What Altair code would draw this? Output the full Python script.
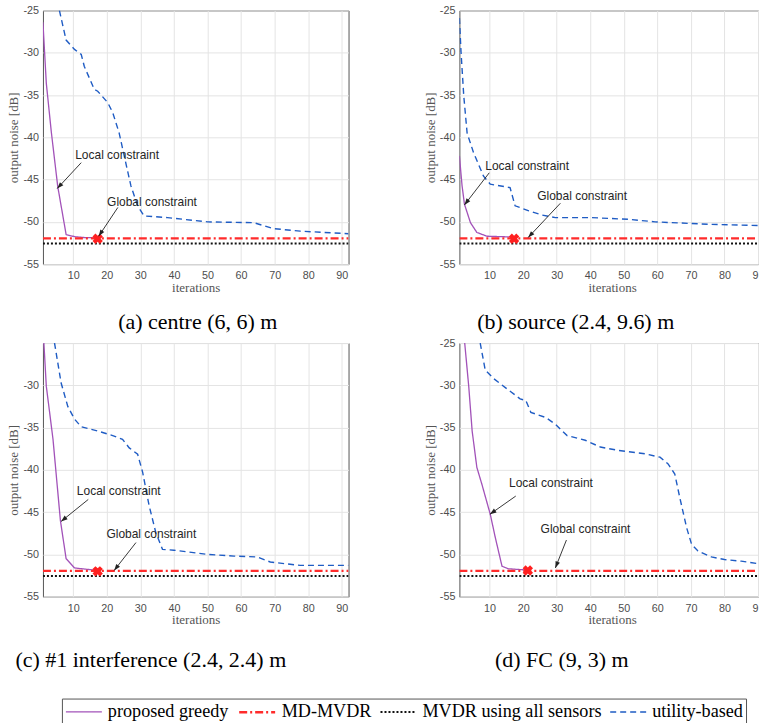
import math
import altair as alt
import pandas as pd

SERIES = ["proposed greedy", "MD-MVDR", "MVDR using all sensors", "utility-based"]
COLORS = ["#a252b9", "#ff2b2b", "#111111", "#1f5cc4"]
DASHES = [[1, 0], [8, 3, 2, 3], [2, 2], [6, 4]]
WIDTHS = [1.3, 2.4, 2.0, 1.4]

MD_LEVEL = -51.95
ALL_LEVEL = -52.55

# ---- (a) centre
a_greedy_x = [1, 2, 3.5, 5.4, 7.9, 10.4, 13, 17.3]
a_greedy_y = [-26.4, -33.6, -39.4, -45.8, -51.5, -51.75, -51.85, -51.9]
a_util_x = [5.9, 7.9, 10.4, 12.4, 13.3, 16.3, 17.3, 20.3, 21.8, 23.7, 25.2, 27.2, 29.2, 31.1, 38.1, 50, 63.8, 69.7, 77.6, 92]
a_util_y = [-25, -28.5, -29.6, -30.2, -31.6, -34.35, -34.55, -35.9, -37.1, -39.5, -42.2, -45.75, -48.1, -49.3, -49.5, -50.0, -50.1, -50.8, -51.1, -51.4]
a_cross = (17.3, -52.0)

# ---- (b) source
b_greedy_x = [1, 1.8, 2.5, 4.3, 6.2, 9.2, 17.6]
b_greedy_y = [-42.2, -45.75, -47.9, -50.1, -51.25, -51.7, -51.8]
b_util_x = [1, 1.5, 2.3, 3.3, 5.2, 8.2, 10.2, 16.1, 17.6, 21.7, 25.7, 29.6, 40.5, 51.4, 59.3, 76, 92]
b_util_y = [-25.9, -30.0, -35.1, -39.5, -41.8, -44.6, -45.55, -45.95, -48.1, -48.7, -49.2, -49.5, -49.5, -49.7, -50.0, -50.3, -50.45]
b_cross = (17.3, -52.0)

# ---- (c) interference
c_greedy_x = [1, 2, 4, 6.2, 7.9, 10.4, 17.3]
c_greedy_y = [-23, -30.1, -36.4, -46.0, -50.5, -51.6, -51.9]
c_util_x = [4.45, 6.4, 8.4, 10.4, 12.4, 17.3, 22.2, 24.7, 26.7, 29.2, 30.7, 32.6, 34.6, 36.6, 40, 50, 57.9, 64.8, 68.7, 77.6, 92]
c_util_y = [-25, -29.7, -32.5, -34.0, -34.9, -35.4, -36.0, -36.4, -37.4, -38.15, -40.3, -44.2, -47.4, -49.4, -49.5, -50.0, -50.2, -50.3, -50.9, -51.3, -51.3]
c_cross = (17.3, -52.0)

# ---- (d) FC
d_greedy_x = [2, 3.8, 4.8, 6.2, 7.7, 10.2, 11.7, 13.7, 15.6, 21.4]
d_greedy_y = [-22.5, -30.2, -35.4, -39.7, -41.7, -45.25, -48.0, -51.4, -51.7, -51.85]
d_util_x = [7.2, 8.7, 11.2, 15.1, 19.1, 20.8, 22.3, 26.7, 29.6, 33.1, 38.5, 43, 48.4, 56.3, 60.8, 63.2, 65.2, 66.7, 68.7, 70.2, 72.1, 76.1, 80, 85, 92]
d_util_y = [-25, -28.2, -29.2, -30.4, -31.6, -31.8, -33.2, -33.8, -34.6, -35.95, -36.5, -37.3, -37.7, -38.1, -38.5, -39.3, -40.5, -43.3, -46.8, -48.8, -49.6, -50.3, -50.6, -50.8, -51.2]
d_cross = (21.4, -51.9)

# annotations: (label, text x, text y, arrow start x, y, arrow tip x, y)
a_ann = [("Local constraint", 10.6, -42.1, 12.4, -43.0, 5.25, -46.06),
         ("Global constraint", 20.1, -47.6, 23.3, -48.3, 17.6, -51.7)]
b_ann = [("Local constraint", 8.7, -43.4, 9.9, -44.2, 2.5, -48.0),
         ("Global constraint", 24.2, -46.9, 31.1, -47.8, 21.5, -51.85)]
c_ann = [("Local constraint", 11.1, -42.5, 14.5, -43.5, 6.4, -46.1),
         ("Global constraint", 19.9, -47.6, 28.7, -48.6, 22.2, -51.9)]
d_ann = [("Local constraint", 15.8, -41.6, 17.8, -43.1, 10.1, -45.25),
         ("Global constraint", 25.2, -46.95, 32.9, -48.3, 29.6, -51.6)]

X_TICKS = [10, 20, 30, 40, 50, 60, 70, 80, 90]
Y_TICKS = [-55, -50, -45, -40, -35, -30, -25]

LEG = alt.Legend(orient="none", legendX=19, legendY=689, direction="horizontal", title=None,
                 symbolType="M-1,0L3,0", symbolSize=324, labelFont="Liberation Serif",
                 labelFontSize=18.2, labelColor="black", strokeColor="#555555",
                 fillColor="white", padding=3, columnPadding=5, labelOffset=23,
                 labelLimit=0)


def panel(gx, gy, ux, uy, cross, ann, xmax, width, height, caption, cap_dx, cap_dy,
          hide_top=False, cut90=False):
    rows = [dict(series=SERIES[0], x=x, y=y) for x, y in zip(gx, gy)]
    rows += [dict(series=SERIES[1], x=1, y=MD_LEVEL), dict(series=SERIES[1], x=92, y=MD_LEVEL)]
    rows += [dict(series=SERIES[2], x=1, y=ALL_LEVEL), dict(series=SERIES[2], x=92, y=ALL_LEVEL)]
    rows += [dict(series=SERIES[3], x=x, y=y) for x, y in zip(ux, uy)]
    df = pd.DataFrame(rows)

    sx = width / (xmax - 1)
    sy = height / 30.0
    arows = []
    for lab, tx, ty, x1, y1, x2, y2 in ann:
        dxp = (x2 - x1) * sx
        dyp = -(y2 - y1) * sy
        ang = math.degrees(math.atan2(dxp, -dyp)) % 360
        arows.append(dict(label=lab, tx=tx, ty=ty, x1=x1, y1=y1, x2=x2, y2=y2, ang=ang))
    adf = pd.DataFrame(arows)
    cdf = pd.DataFrame([dict(x=cross[0], y=cross[1])])

    xs = alt.Scale(domain=[1, xmax], nice=False, zero=False)
    ys = alt.Scale(domain=[-55, -25], nice=False, zero=False)

    xlab = "datum.value == 90 ? '9' : '' + datum.value" if cut90 else "'' + datum.value"
    ylab = "datum.value == -25 ? '' : '' + datum.value" if hide_top else "'' + datum.value"
    xaxis_kw = dict(values=X_TICKS, title="iterations", labelExpr=xlab, labelOverlap=False,
                    labelFlush=False, labelBound=False, labelSeparation=0)
    if cut90:
        xaxis_kw["labelAlign"] = {"condition": {"test": "datum.value == 90", "value": "right"},
                                  "value": "center"}
        xaxis_kw["titleX"] = width * (91.0 / (xmax - 1)) / 2
    xaxis = alt.Axis(**xaxis_kw)
    yaxis = alt.Axis(values=Y_TICKS, title="output noise [dB]", labelExpr=ylab, labelOverlap=False)

    lines = alt.Chart(df).mark_line(clip=True).encode(
        x=alt.X("x:Q", scale=xs, axis=xaxis),
        y=alt.Y("y:Q", scale=ys, axis=yaxis),
        color=alt.Color("series:N", scale=alt.Scale(domain=SERIES, range=COLORS), legend=LEG),
        strokeDash=alt.StrokeDash("series:N", scale=alt.Scale(domain=SERIES, range=DASHES), legend=LEG),
        strokeWidth=alt.StrokeWidth("series:N", scale=alt.Scale(type="ordinal", domain=SERIES, range=WIDTHS),
                                    legend=LEG),
        order=alt.Order("x:Q"),
    )
    mark_x = alt.Chart(cdf).mark_point(shape="cross", angle=45, filled=True, color="#ff2020",
                                       size=110, opacity=1, strokeWidth=0).encode(
        x=alt.X("x:Q", scale=xs, axis=xaxis), y=alt.Y("y:Q", scale=ys, axis=yaxis))
    arrows = alt.Chart(adf).mark_rule(color="#222222", strokeWidth=0.9).encode(
        x=alt.X("x1:Q", scale=xs, axis=xaxis), y=alt.Y("y1:Q", scale=ys, axis=yaxis),
        x2="x2:Q", y2="y2:Q")
    heads = alt.Chart(adf).mark_point(shape="M0,0L-0.36,1L0.36,1Z", filled=True, color="#222222",
                                      size=170, opacity=1, strokeWidth=0).encode(
        x=alt.X("x2:Q", scale=xs, axis=xaxis), y=alt.Y("y2:Q", scale=ys, axis=yaxis),
        angle=alt.Angle("ang:Q", scale=None))
    texts = alt.Chart(adf).mark_text(align="left", baseline="middle", font="Liberation Sans",
                                     fontSize=12, color="#262626").encode(
        x=alt.X("tx:Q", scale=xs, axis=xaxis), y=alt.Y("ty:Q", scale=ys, axis=yaxis), text="label:N")

    return alt.layer(lines, mark_x, arrows, heads, texts).properties(
        width=width, height=height,
        title=alt.TitleParams(caption, orient="bottom", anchor="middle", font="Liberation Serif",
                              fontSize=22, fontWeight="normal", color="black",
                              dx=cap_dx, dy=cap_dy),
    )


pa = panel(a_greedy_x, a_greedy_y, a_util_x, a_util_y, a_cross, a_ann, 92, 306, 254,
           "(a)  centre (6, 6) m", 2, 14)
pb = panel(b_greedy_x, b_greedy_y, b_util_x, b_util_y, b_cross, b_ann, 90, 299, 254,
           "(b)  source (2.4, 9.6) m", -33, 14, cut90=True)
pc = panel(c_greedy_x, c_greedy_y, c_util_x, c_util_y, c_cross, c_ann, 92, 306, 254,
           "(c)  #1 interference (2.4, 2.4) m", -45, 19, hide_top=True)
pd_ = panel(d_greedy_x, d_greedy_y, d_util_x, d_util_y, d_cross, d_ann, 90, 299, 254,
            "(d)  FC (9, 3) m", -47, 19, cut90=True)

chart = alt.concat(pa, pb, pc, pd_, columns=2, spacing={"row": 79, "column": 111},
                   bounds="flush").properties(
    padding={"left": 7, "top": 3, "right": 0, "bottom": 0}
).configure_view(
    stroke="#555555", strokeWidth=1
).configure_axis(
    grid=True, gridColor="#e4e4e4", gridWidth=1, domain=False, ticks=False,
    labelFont="Liberation Sans", labelFontSize=10.8, labelColor="#4d4d4d", labelPadding=4.5,
    titleFont="Liberation Serif", titleFontSize=13, titleFontWeight="normal", titleColor="#555555",
    labelOverlap=False,
).configure_axisX(titlePadding=1, labelPadding=5.5, labelOverlap=False).configure_axisY(titlePadding=2)

chart.save("out.html", embed_options={"renderer": "svg", "actions": False})
